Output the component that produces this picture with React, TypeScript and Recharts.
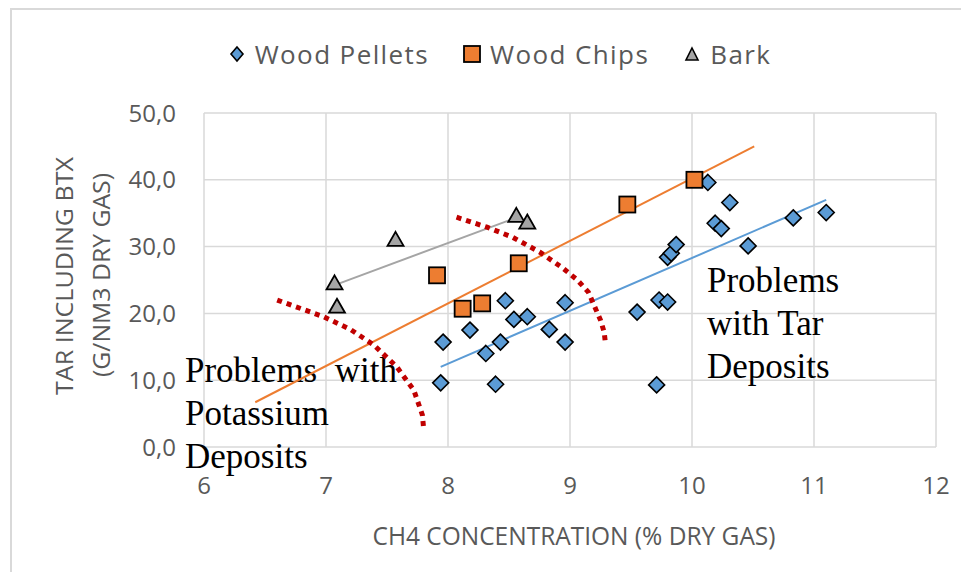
import React from "react";
import { CartesianGrid, Legend, Scatter, ScatterChart, XAxis, YAxis } from "recharts";

// CH4 (% dry gas) vs tar incl. BTX (g/Nm3 dry gas)
const pelletsX = [7.94, 7.96, 8.18, 8.31, 8.43, 8.39, 8.47, 8.54, 8.65, 8.83, 8.96, 8.96, 9.55, 9.73, 9.8, 9.71, 9.8, 9.83, 9.87, 10.13, 10.31, 10.19, 10.24, 10.46, 10.83, 11.1];
const pelletsY = [9.6, 15.7, 17.5, 14.0, 15.7, 9.4, 21.9, 19.1, 19.5, 17.6, 21.6, 15.7, 20.2, 22.0, 21.7, 9.3, 28.4, 29.0, 30.3, 39.6, 36.6, 33.5, 32.7, 30.1, 34.3, 35.1];

const chipsX = [7.91, 8.12, 8.28, 8.58, 9.47, 10.02];
const chipsY = [25.7, 20.7, 21.5, 27.5, 36.3, 40.0];

const barkX = [7.07, 7.09, 7.57, 8.56, 8.65];
const barkY = [24.5, 21.0, 31.0, 34.6, 33.6];

// trendline end points
const pelletsTrendX = [7.94, 11.1];
const pelletsTrendY = [12.0, 37.0];
const chipsTrendX = [6.42, 10.51];
const chipsTrendY = [6.7, 45.0];
const barkTrendX = [7.11, 8.54];
const barkTrendY = [24.5, 34.2];

// dotted red boundary curves
const potassiumCurveX = [6.6, 6.98, 7.2, 7.39, 7.58, 7.72, 7.79, 7.8];
const potassiumCurveY = [22.0, 19.5, 17.6, 15.3, 12.0, 8.5, 4.8, 2.8];
const tarCurveX = [8.07, 8.32, 8.53, 8.75, 8.94, 9.06, 9.15, 9.2, 9.25, 9.28, 9.29];
const tarCurveY = [34.4, 32.9, 31.4, 29.2, 26.8, 25.0, 23.2, 21.1, 19.0, 17.2, 15.6];

const xTicks = [6, 7, 8, 9, 10, 11, 12];
const yTicks = [0, 10, 20, 30, 40, 50];

const seriesNames = ["Wood Pellets", "Wood Chips", "Bark"];

const zip = (xs: number[], ys: number[]) => xs.map((x, i) => ({ x, y: ys[i] }));

const BLUE = "#5b9bd5";
const ORANGE = "#ed7d31";
const GRAY = "#a5a5a5";
const RED = "#c00000";
const TEXT = "#595959";
const SANS = "'Open Sans', sans-serif";
const SERIF = "'Liberation Serif', 'Times New Roman', serif";

const Diamond = (props: any) => {
  const { cx, cy } = props;
  return <path d={`M${cx},${cy - 8} L${cx + 8},${cy} L${cx},${cy + 8} L${cx - 8},${cy} Z`} fill={BLUE} stroke="#000" strokeWidth={1.6} />;
};
const Square = (props: any) => {
  const { cx, cy } = props;
  return <rect x={cx - 8} y={cy - 8} width={16} height={16} fill={ORANGE} stroke="#000" strokeWidth={1.8} />;
};
const Triangle = (props: any) => {
  const { cx, cy } = props;
  return <path d={`M${cx},${cy - 8} L${cx + 8},${cy + 6} L${cx - 8},${cy + 6} Z`} fill={GRAY} stroke="#000" strokeWidth={1.8} />;
};
const NoDot = () => <g />;

function LegendIcon({ i }: { i: number }) {
  return (
    <svg width={18} height={18} style={{ display: "block" }}>
      {i === 0 && <path d="M9,2 L15,9 L9,16 L3,9 Z" fill={BLUE} stroke="#000" strokeWidth={1.6} />}
      {i === 1 && <rect x={1} y={1} width={16} height={16} fill={ORANGE} stroke="#000" strokeWidth={1.8} />}
      {i === 2 && <path d="M9,3 L15,15 L3,15 Z" fill={GRAY} stroke="#000" strokeWidth={1.6} />}
    </svg>
  );
}

function LegendBox() {
  return (
    <div style={{ display: "flex", justifyContent: "center", alignItems: "center", gap: 34, paddingLeft: 38, fontFamily: SANS, fontSize: 26, color: TEXT, letterSpacing: 1.4 }}>
      {seriesNames.map((name, i) => (
        <div key={name} style={{ display: "flex", alignItems: "center", gap: 9 }}>
          <LegendIcon i={i} />
          <span>{name}</span>
        </div>
      ))}
    </div>
  );
}

const fmt = (v: number) => v.toFixed(1).replace(".", ",");

export default function App() {
  return (
    <div style={{ position: "absolute", left: 0, top: 0, width: 961, height: 572, background: "#fff" }}>
      <div style={{ position: "absolute", left: 10, top: 8, right: 0, bottom: 0, borderLeft: "2px solid #d9d9d9", borderTop: "2px solid #d9d9d9" }} />
      <ScatterChart width={961} height={572} margin={{ top: 113, right: 25, bottom: 65, left: 144 }}>
        <CartesianGrid stroke="#d9d9d9" strokeWidth={1.5} />
        <XAxis
          type="number"
          dataKey="x"
          domain={[6, 12]}
          ticks={xTicks}
          axisLine={false}
          tickLine={false}
          tickMargin={24}
          height={60}
          tick={{ fill: TEXT, fontSize: 24, fontFamily: SANS }}
        />
        <YAxis
          type="number"
          dataKey="y"
          domain={[0, 50]}
          ticks={yTicks}
          axisLine={false}
          tickLine={false}
          tickMargin={22}
          width={60}
          tickFormatter={fmt}
          tick={{ fill: TEXT, fontSize: 24, fontFamily: SANS }}
        />
        <Legend verticalAlign="middle" align="center" content={<LegendBox />} wrapperStyle={{ top: 36, left: 0, width: 961 }} />

        <Scatter data={zip(pelletsTrendX, pelletsTrendY)} shape={NoDot} line={{ stroke: BLUE, strokeWidth: 2 }} lineType="joint" isAnimationActive={false} legendType="none" />
        <Scatter data={zip(chipsTrendX, chipsTrendY)} shape={NoDot} line={{ stroke: ORANGE, strokeWidth: 2 }} lineType="joint" isAnimationActive={false} legendType="none" />
        <Scatter data={zip(barkTrendX, barkTrendY)} shape={NoDot} line={{ stroke: GRAY, strokeWidth: 2 }} lineType="joint" isAnimationActive={false} legendType="none" />

        <Scatter data={zip(potassiumCurveX, potassiumCurveY)} shape={NoDot} line={{ stroke: RED, strokeWidth: 5, strokeDasharray: "5 5" }} lineType="joint" isAnimationActive={false} legendType="none" />
        <Scatter data={zip(tarCurveX, tarCurveY)} shape={NoDot} line={{ stroke: RED, strokeWidth: 5, strokeDasharray: "5 5" }} lineType="joint" isAnimationActive={false} legendType="none" />

        <Scatter name={seriesNames[0]} data={zip(pelletsX, pelletsY)} shape={Diamond} isAnimationActive={false} />
        <Scatter name={seriesNames[1]} data={zip(chipsX, chipsY)} shape={Square} isAnimationActive={false} />
        <Scatter name={seriesNames[2]} data={zip(barkX, barkY)} shape={Triangle} isAnimationActive={false} />

        <text x={185} y={382} fontFamily={SERIF} fontSize={35} fill="#000" style={{ whiteSpace: "pre" }}>Problems  with</text>
        <text x={185} y={425} fontFamily={SERIF} fontSize={35} fill="#000">Potassium</text>
        <text x={185} y={468} fontFamily={SERIF} fontSize={35} fill="#000">Deposits</text>

        <text x={707} y={292} fontFamily={SERIF} fontSize={35} fill="#000">Problems</text>
        <text x={707} y={335} fontFamily={SERIF} fontSize={35} fill="#000">with Tar</text>
        <text x={707} y={378} fontFamily={SERIF} fontSize={35} fill="#000">Deposits</text>

        <text x={574} y={535} textAnchor="middle" dominantBaseline="central" fontFamily={SANS} fontSize={25} fill={TEXT} textLength={403} lengthAdjust="spacingAndGlyphs">
          CH4 CONCENTRATION (% DRY GAS)
        </text>
        <text x={63} y={276} transform="rotate(-90 63 276)" textAnchor="middle" dominantBaseline="central" fontFamily={SANS} fontSize={24} fill={TEXT} textLength={238} lengthAdjust="spacingAndGlyphs">
          TAR INCLUDING BTX
        </text>
        <text x={100} y={275} transform="rotate(-90 100 275)" textAnchor="middle" dominantBaseline="central" fontFamily={SANS} fontSize={24} fill={TEXT} textLength={204} lengthAdjust="spacingAndGlyphs">
          (G/NM3 DRY GAS)
        </text>
      </ScatterChart>
    </div>
  );
}
